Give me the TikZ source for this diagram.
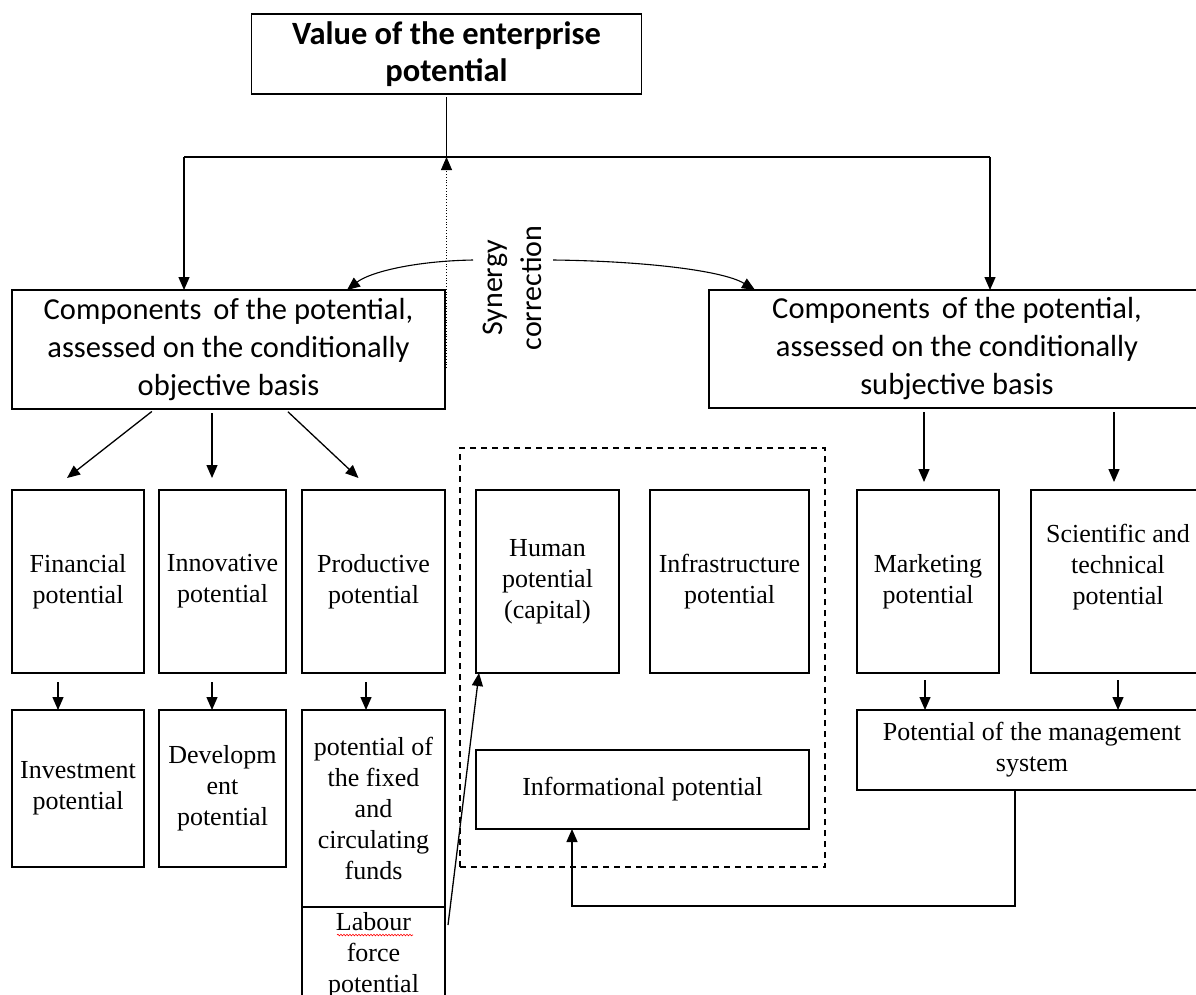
\documentclass[tikz,border=0pt]{standalone}
\usepackage{fontspec}
\setmainfont{Liberation Serif}
\newfontfamily\calibri{Carlito}
\usetikzlibrary{arrows.meta,calc,decorations.pathmorphing}
\begin{document}
\begin{tikzpicture}[x=1pt,y=-1pt,
  box/.style={draw, line width=1.3pt, inner sep=2pt, outer sep=0pt, align=center,
    font=\fontsize{26}{31}\selectfont},
  cbox/.style={box, font=\calibri\fontsize{30.5}{38}\selectfont},
  txt/.style={inner sep=0pt, align=center, font=\fontsize{26}{31}\selectfont},
  tip/.style={-{Triangle[length=13pt,width=11pt]}},
  arr/.style={line width=1.3pt, tip},
  ln/.style={line width=1.3pt}]
\useasboundingbox (0,0) rectangle (1196,994);
\clip (0,0) rectangle (1196,994);

% top
\node[box, minimum width=390, minimum height=80, font=\calibri\bfseries\fontsize{32.5}{37}\selectfont] (val) at (446.5,54) {Value of the enterprise\\potential};

% main component boxes
\node[cbox, minimum width=433, minimum height=119] (objb) at (228.5,349.5) {Components\hspace{5pt} of the potential,\\assessed on the conditionally\\objective basis};
\node[cbox, minimum width=496, minimum height=118] (subb) at (957,349) {Components\hspace{5pt} of the potential,\\assessed on the conditionally\\subjective basis};

% synergy label
\node[inner sep=0pt, rotate=90, align=center, font=\calibri\fontsize{30}{39}\selectfont] (syn) at (512,288) {Synergy\\correction};

% row 1 left
\node[box, minimum width=132, minimum height=183] (fin) at (78,581.5) {Financial\\potential};
\node[box, minimum width=127, minimum height=183] (inn) at (222.5,581.5) {Innovative\\potential};
\node[box, minimum width=143, minimum height=183] (pro) at (373.5,581.5) {Productive\\potential};

% row 2 left
\node[box, minimum width=132, minimum height=157] (inv) at (78,788.5) {Investment\\potential};
\node[box, minimum width=127, minimum height=157] (dev) at (222.5,788.5) {Developm\\ent\\potential};
\node[box, minimum width=143, minimum height=197] (fix) at (373.5,808.5) {potential of\\the fixed\\and\\circulating\\funds};
\node[box, minimum width=143, minimum height=103] (lab) at (373.5,958.5) {};
\node[txt] (labt) at (373.5,955) {Labour\\force\\potential};
\draw[red, line width=0.6pt, decorate, decoration={snake, amplitude=0.8pt, segment length=3pt}] (337,935) -- (413,935);

% dashed group
\node[draw, line width=1.3pt, dash pattern=on 6pt off 5pt, minimum width=365, minimum height=419, inner sep=0pt, outer sep=0pt] (grp) at (642.5,657.5) {};
\node[box, minimum width=143, minimum height=183] (hum) at (547.5,581.5) {Human\\potential\\(capital)};
\node[box, minimum width=159, minimum height=183] (infr) at (729.5,581.5) {Infrastructure\\potential};
\node[box, minimum width=333, minimum height=79] (info) at (642.5,789.5) {Informational potential};

% right side
\node[box, minimum width=142, minimum height=183] (mkt) at (928,581.5) {Marketing\\potential};
\node[box, minimum width=174, minimum height=183] (sci) at (1118,581.5) {};
\node[txt] (scit) at (1118,567) {Scientific and\\technical\\potential};
\node[box, minimum width=350, minimum height=80] (mgmt) at (1032,750) {Potential of the management\\system};

% top connectors
\coordinate (hc) at (446.5,157);
\coordinate (hL) at (184,157);
\coordinate (hR) at (990,157);
\draw[ln, shorten <=3pt] (val.south) -- (hc);
\draw[ln] (hL) -- (hR);
\draw[arr] (hL) -- (objb.north -| hL);
\draw[arr] (hR) -- (subb.north -| hR);
\coordinate (dotS) at (446.5,368);
\draw[line width=0.8pt, dotted, tip] (dotS) -- (hc);

% synergy arcs
\coordinate (sL) at (473,260);
\coordinate (sR) at (553,260);
\draw[line width=1.1pt, tip] (sL) .. controls (415,261) and (370,272) .. (objb.north -| 347,0);
\draw[line width=1.1pt, tip] (sR) .. controls (640,261) and (722,270) .. (subb.north -| 755,0);

% from objective box
\draw[arr, shorten <=4pt] (objb.south -| 155,0) -- ($(fin.north)+(-11,-12)$);
\draw[arr, shorten <=4pt, shorten >=12pt] (objb.south -| 212,0) -- (inn.north -| 212,0);
\draw[arr, shorten <=4pt] (objb.south -| 285,0) -- ($(pro.north)+(-15,-12)$);

% row1 -> row2
\draw[arr, shorten <=9pt] (fin.south -| 58,0) -- (inv.north -| 58,0);
\draw[arr, shorten <=9pt] (inn.south -| 212,0) -- (dev.north -| 212,0);
\draw[arr, shorten <=9pt] (pro.south -| 366,0) -- (fix.north -| 366,0);

% labour -> human
\draw[arr] ($(lab.north east)+(3,18)$) -- ($(hum.south west)+(3,0)$);

% subjective box -> right boxes
\draw[arr, shorten <=4pt, shorten >=8pt] (subb.south -| 924,0) -- (mkt.north -| 924,0);
\draw[arr, shorten <=4pt, shorten >=8pt] (subb.south -| 1114,0) -- (sci.north -| 1114,0);
\draw[arr, shorten <=7pt] (mkt.south -| 925,0) -- (mgmt.north -| 925,0);
\draw[arr, shorten <=7pt] (sci.south -| 1118,0) -- (mgmt.north -| 1118,0);

% management -> informational
\coordinate (c1) at (1015,906);
\coordinate (c2) at (572,906);
\draw[arr] (mgmt.south -| c1) -- (c1) -- (c2) -- (info.south -| c2);
\end{tikzpicture}
\end{document}
